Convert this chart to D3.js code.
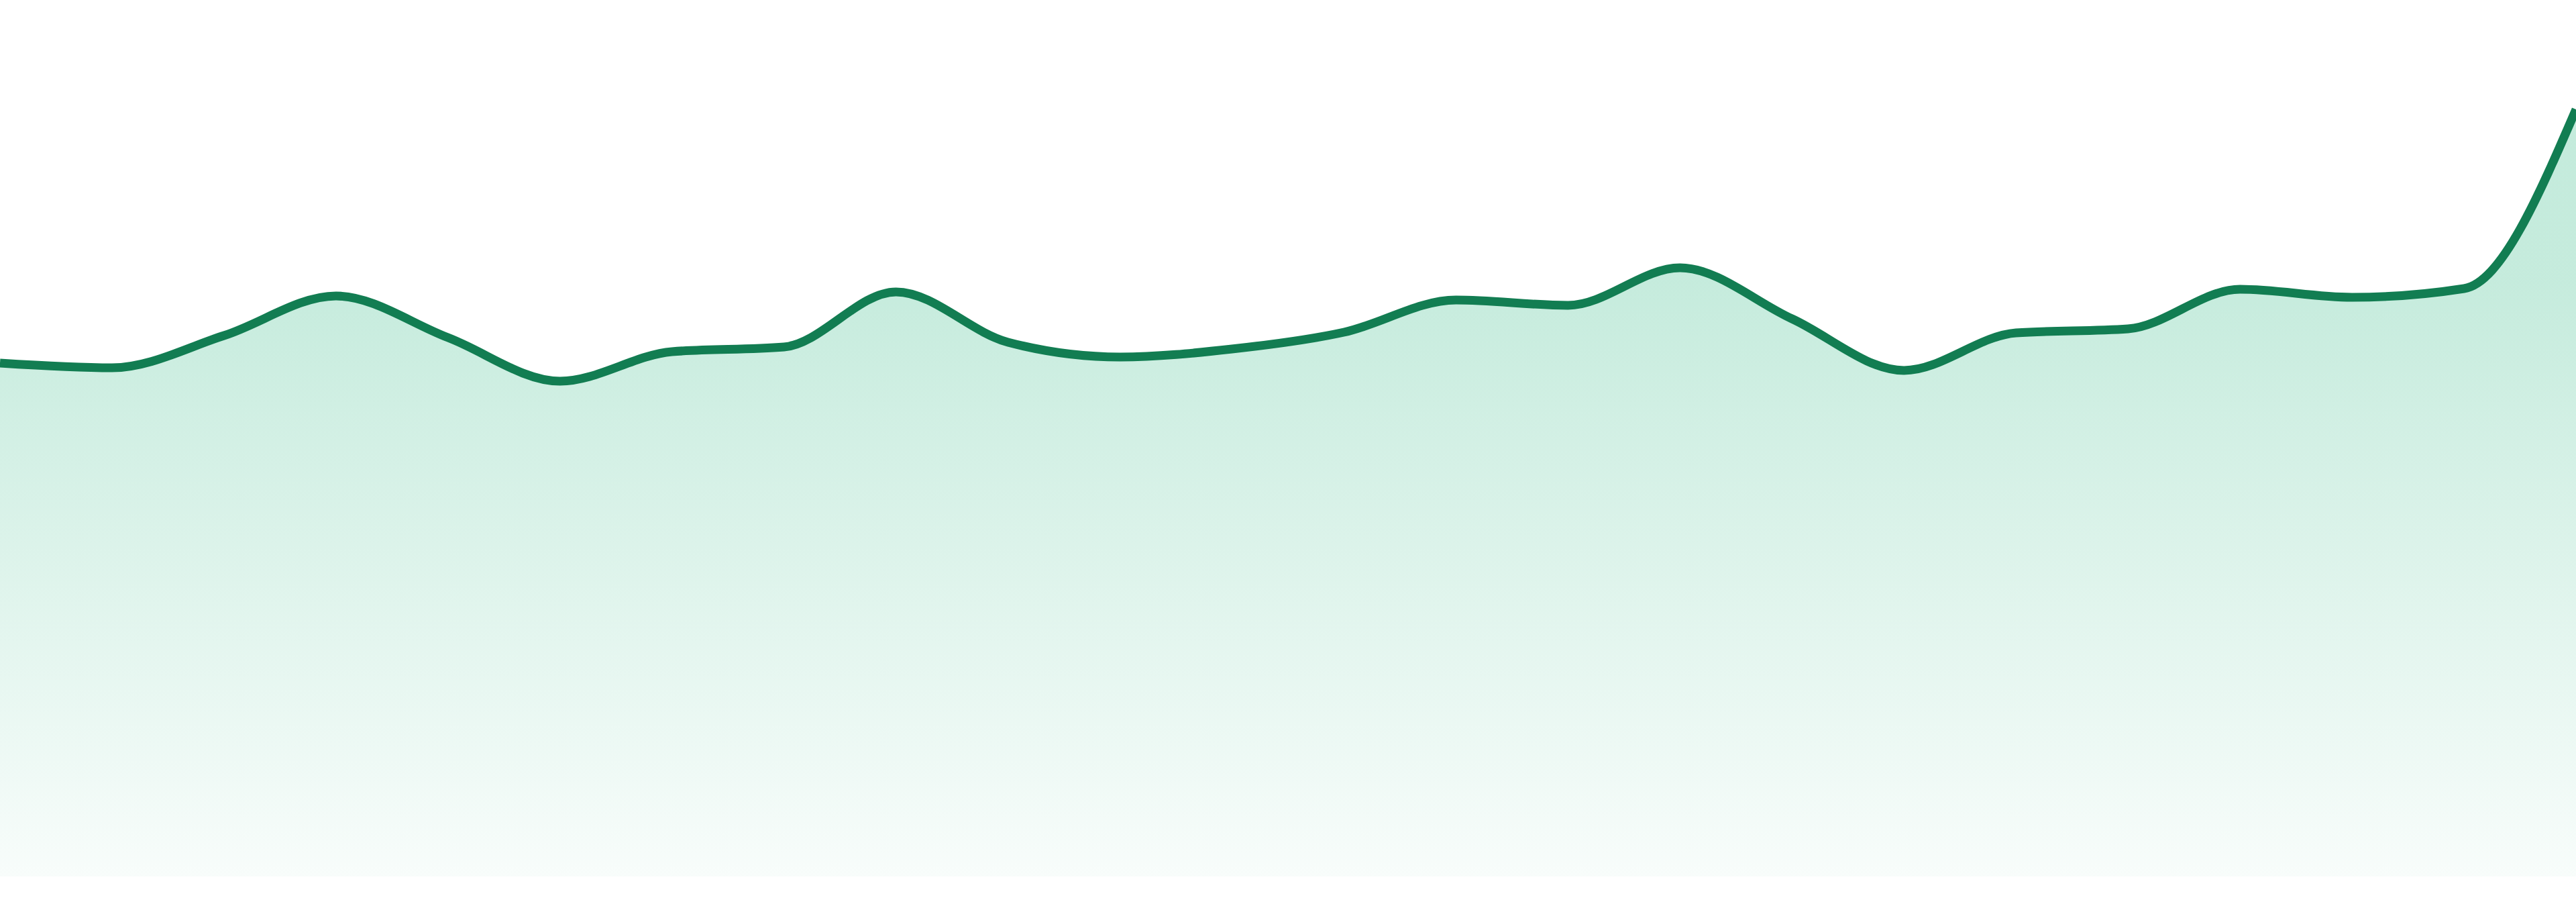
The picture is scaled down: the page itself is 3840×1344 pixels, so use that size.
<!DOCTYPE html>
<html>
<head>
<meta charset="utf-8">
<script src="https://cdn.jsdelivr.net/npm/d3@7"></script>
<style>
  html, body { margin: 0; padding: 0; background: #fff; overflow: hidden; }
  #chart { width: 3840px; height: 1344px; }
</style>
</head>
<body>
<div id="chart"></div>
<script>
/* global d3 */
// 时间点（图上没有标签）
const hours = ['00', '01', '02', '03', '04', '05', '06', '07', '08', '09', '10', '11',
  '12', '13', '14', '15', '16', '17', '18', '19', '20', '21', '22', '23']
const values = [76.5, 75.8, 80.6, 86.5, 80.3, 73.8, 78.2, 78.9, 87.1, 79.6, 77.4, 78.6,
  81.1, 85.9, 85.1, 90.7, 83.1, 75.4, 81.0, 81.6, 87.5, 86.3, 87.6, 114.3]
const yTicks = [0, 130.6]

const width = 3840
const height = 1344
const margin = { top: 0, right: 0, bottom: 38, left: 0 }

const data = hours.map((h, i) => ({ h, v: values[i] }))

const x = d3
  .scalePoint()
  .domain(hours)
  .range([margin.left, width - margin.right])

const y = d3
  .scaleLinear()
  .domain(yTicks)
  .range([height - margin.bottom, margin.top])

const svg = d3
  .select('#chart')
  .append('svg')
  .attr('width', width)
  .attr('height', height)
  .attr('viewBox', [0, 0, width, height])

// 渐变填充
const gradTop = y(d3.max(values))
const gradBottom = y(0)
const grad = svg
  .append('defs')
  .append('linearGradient')
  .attr('id', 'fillGrad')
  .attr('gradientUnits', 'userSpaceOnUse')
  .attr('x1', 0)
  .attr('x2', 0)
  .attr('y1', gradTop)
  .attr('y2', gradBottom)

const base = '#14af73'
const kneeOffset = (y(88.6) - gradTop) / (gradBottom - gradTop)
grad.append('stop').attr('offset', 0).attr('stop-color', base).attr('stop-opacity', 0.25)
grad.append('stop').attr('offset', kneeOffset).attr('stop-color', base).attr('stop-opacity', 0.245)
grad.append('stop').attr('offset', 1).attr('stop-color', base).attr('stop-opacity', 0.03)

const area = d3
  .area()
  .x((d) => x(d.h))
  .y0(y(0))
  .y1((d) => y(d.v))
  .curve(d3.curveMonotoneX)

const line = d3
  .line()
  .x((d) => x(d.h))
  .y((d) => y(d.v))
  .curve(d3.curveMonotoneX)

svg.append('path').datum(data).attr('d', area).attr('fill', 'url(#fillGrad)')

svg
  .append('path')
  .datum(data)
  .attr('d', line)
  .attr('fill', 'none')
  .attr('stroke', '#127d52')
  .attr('stroke-width', 13)
  .attr('stroke-linejoin', 'round')
</script>
</body>
</html>
